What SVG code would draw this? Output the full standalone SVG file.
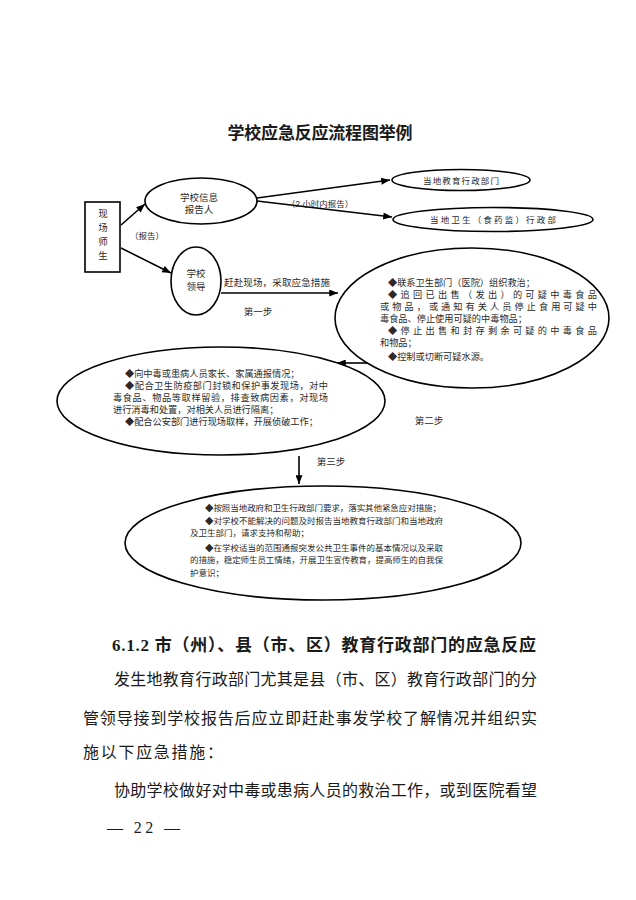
<svg xmlns="http://www.w3.org/2000/svg" width="636" height="900" viewBox="0 0 636 900">
<style>
text{font-family:"Liberation Sans","Noto Sans CJK SC",sans-serif;fill:#1a1a1a}
.s{font-size:9.5px;fill:#2a2a2a}
.t{font-size:9.2px;fill:#2a2a2a}
.xs{font-size:8.5px;fill:#2a2a2a}
.shape{fill:#fff;stroke:#000;stroke-width:1.6}
.con{fill:none;stroke:#000;stroke-width:1.6}
.body{font-size:16px;font-family:"Liberation Serif","Noto Sans CJK SC",serif}
.hd{font-size:17px;font-weight:bold;font-family:"Liberation Serif","Noto Sans CJK SC",serif}
</style>
<defs>
<marker id="ah" viewBox="0 0 10 8" refX="10" refY="4" markerWidth="10" markerHeight="7" orient="auto" markerUnits="userSpaceOnUse"><path d="M0,0 L10,4 L0,8 z" fill="#000"/></marker>
</defs>
<rect width="636" height="900" fill="#fff"/>
<text class="hd" x="320" y="139" text-anchor="middle" textLength="185" lengthAdjust="spacing">学校应急反应流程图举例</text>

<g id="connectors">
<path class="con" d="M121,225 L145,204" marker-end="url(#ah)"/>
<path class="con" d="M121,248 L171,273" marker-end="url(#ah)"/>
<path class="con" d="M257,198 L390,180" marker-end="url(#ah)"/>
<path class="con" d="M257,201 L392,217" marker-end="url(#ah)"/>
<path class="con" d="M221,293 L338,293" marker-end="url(#ah)"/>
<path class="con" d="M367,363 L337,363" marker-end="url(#ah)"/>
<path class="con" d="M299,456 L299,484" marker-end="url(#ah)"/>
<text class="xs" x="147" y="239" text-anchor="middle">（报告）</text>
<text class="xs" x="320" y="207" text-anchor="middle">（2 小时内报告）</text>
<text class="s" x="224" y="286" textLength="106" lengthAdjust="spacing">赶赴现场，采取应急措施</text>
<text class="s" x="258" y="315" text-anchor="middle">第一步</text>
<text class="s" x="429" y="424" text-anchor="middle">第二步</text>
<text class="s" x="331" y="465" text-anchor="middle">第三步</text>
</g>

<g id="scene">
<rect class="shape" x="85" y="202" width="35" height="70"/>
<text class="s" x="103" y="217" text-anchor="middle" font-size="10">现</text>
<text class="s" x="103" y="231" text-anchor="middle" font-size="10">场</text>
<text class="s" x="103" y="245" text-anchor="middle" font-size="10">师</text>
<text class="s" x="103" y="259" text-anchor="middle" font-size="10">生</text>
</g>

<g id="reporter">
<ellipse class="shape" cx="201" cy="201" rx="56" ry="23"/>
<text class="s" x="199" y="201" text-anchor="middle">学校信息</text>
<text class="s" x="199" y="213" text-anchor="middle">报告人</text>
</g>

<g id="leader">
<ellipse class="shape" cx="196" cy="281" rx="25" ry="34"/>
<text class="s" x="196" y="277" text-anchor="middle">学校</text>
<text class="s" x="196" y="290" text-anchor="middle">领导</text>
</g>

<g id="edu">
<ellipse class="shape" cx="461" cy="180" rx="69" ry="10.5"/>
<text class="xs" x="461" y="184" text-anchor="middle" textLength="76" lengthAdjust="spacing">当地教育行政部门</text>
</g>

<g id="health">
<ellipse class="shape" cx="493" cy="219.5" rx="100" ry="12"/>
<text class="xs" x="493" y="223" text-anchor="middle" textLength="126" lengthAdjust="spacing">当地卫生（食药监）行政部</text>
</g>

<g id="step1">
<ellipse class="shape" cx="472" cy="318" rx="137" ry="70"/>
<text class="t" x="388" y="286">◆联系卫生部门（医院）组织救治；</text>
<text class="t" x="388" y="298" textLength="209" lengthAdjust="spacing">◆追回已出售（发出）的可疑中毒食品</text>
<text class="t" x="380" y="310" textLength="217" lengthAdjust="spacing">或物品，或通知有关人员停止食用可疑中</text>
<text class="t" x="380" y="322">毒食品、停止使用可疑的中毒物品；</text>
<text class="t" x="388" y="334" textLength="209" lengthAdjust="spacing">◆停止出售和封存剩余可疑的中毒食品</text>
<text class="t" x="380" y="346">和物品；</text>
<text class="t" x="388" y="360">◆控制或切断可疑水源。</text>
</g>

<g id="step2">
<ellipse class="shape" cx="221" cy="401" rx="164" ry="54"/>
<text class="t" x="125" y="377">◆向中毒或患病人员家长、家属通报情况；</text>
<text class="t" x="125" y="389" textLength="203" lengthAdjust="spacing">◆配合卫生防疫部门封锁和保护事发现场，对中</text>
<text class="t" x="113" y="401" textLength="215" lengthAdjust="spacing">毒食品、物品等取样留验，排查致病因素，对现场</text>
<text class="t" x="113" y="413">进行消毒和处置，对相关人员进行隔离；</text>
<text class="t" x="125" y="425">◆配合公安部门进行现场取样，开展侦破工作；</text>
</g>

<g id="step3">
<ellipse class="shape" cx="323" cy="543" rx="198" ry="57"/>
<text class="xs" x="205" y="511" textLength="236" lengthAdjust="spacing">◆按照当地政府和卫生行政部门要求，落实其他紧急应对措施；</text>
<text class="xs" x="205" y="524" textLength="238" lengthAdjust="spacing">◆对学校不能解决的问题及时报告当地教育行政部门和当地政府</text>
<text class="xs" x="190" y="536">及卫生部门，请求支持和帮助；</text>
<text class="xs" x="205" y="551" textLength="238" lengthAdjust="spacing">◆在学校适当的范围通报突发公共卫生事件的基本情况以及采取</text>
<text class="xs" x="190" y="563" textLength="253" lengthAdjust="spacing">的措施，稳定师生员工情绪，开展卫生宣传教育，提高师生的自我保</text>
<text class="xs" x="190" y="576">护意识；</text>
</g>

<text class="hd" x="112" y="651" textLength="424" lengthAdjust="spacing">6.1.2 市（州）、县（市、区）教育行政部门的应急反应</text>
<text class="body" x="114" y="685" textLength="423" lengthAdjust="spacing">发生地教育行政部门尤其是县（市、区）教育行政部门的分</text>
<text class="body" x="83" y="724" textLength="454" lengthAdjust="spacing">管领导接到学校报告后应立即赶赴事发学校了解情况并组织实</text>
<text class="body" x="83" y="758" textLength="140" lengthAdjust="spacing">施以下应急措施：</text>
<text class="body" x="114" y="796" textLength="423" lengthAdjust="spacing">协助学校做好对中毒或患病人员的救治工作，或到医院看望</text>
<text class="body" x="107" y="833" font-size="15" textLength="73" lengthAdjust="spacing">— 22 —</text>
</svg>
